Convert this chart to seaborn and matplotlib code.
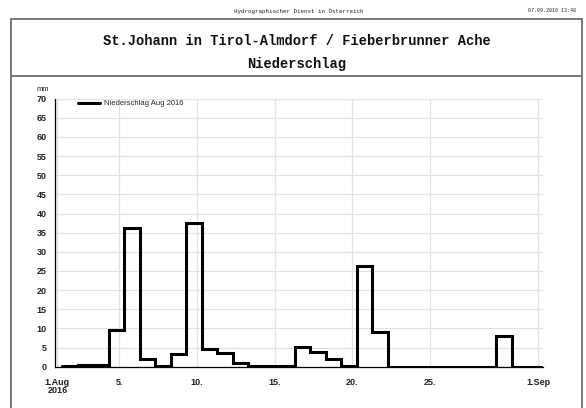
import pandas as pd
import matplotlib
matplotlib.use("Agg")
import matplotlib.pyplot as plt
import seaborn as sns
from matplotlib.lines import Line2D
from matplotlib.ticker import MultipleLocator, FixedLocator

# Daily precipitation totals, August 2016 (each total runs 07:00 -> 07:00 next day)
days = list(range(1, 32))
precip_mm = [0.2, 0.5, 0.5, 9.6, 36.1, 2.0, 0.1, 3.2, 37.6, 4.7,
             3.7, 0.9, 0.2, 0.1, 0.1, 5.2, 3.9, 2.0, 0.2, 26.2,
             9.0, 0.0, 0.0, 0.0, 0.0, 0.0, 0.0, 0.0, 8.0, 0.0, 0.0]
tick_days = [1, 5, 10, 15, 20, 25, 32]
tick_labels = ["1.Aug\n2016", "5.", "10.", "15.", "20.", "25.", "1.Sep"]
series_label = "Niederschlag Aug 2016"

header = "Hydrographischer Dienst in Österreich"
stamp = "07.09.2016 13:48"
title_1 = "St.Johann in Tirol-Almdorf / Fieberbrunner Ache"
title_2 = "Niederschlag"

W, H = 586, 408
sns.set_style("white")
plt.rcParams["font.family"] = ["Liberation Sans", "DejaVu Sans"]

fig = plt.figure(figsize=(W / 100, H / 100), dpi=100)

def px(x, y):
    return x / W, 1 - y / H

# axes placement (pixel box)
x0, x1, ytop, ybot = 55, 543, 98.6, 366.7
ax = fig.add_axes([x0 / W, 1 - ybot / H, (x1 - x0) / W, (ybot - ytop) / H])

offset = 7 / 24
df = pd.DataFrame({
    "t": [d + offset for d in days] + [days[-1] + 1 + offset],
    "mm": precip_mm + [precip_mm[-1]],
})
sns.lineplot(data=df, x="t", y="mm", drawstyle="steps-post", color="black",
             lw=2.2, label=series_label, ax=ax, solid_joinstyle="miter")

ax.set_xlim(0.84, 32.32)
ax.set_ylim(0, 70)
ax.set_xlabel("")
ax.set_ylabel("")

ax.xaxis.set_major_locator(FixedLocator(tick_days))
ax.set_xticklabels(tick_labels)
ax.xaxis.set_minor_locator(MultipleLocator(1))
ax.yaxis.set_major_locator(MultipleLocator(5))
ax.yaxis.set_minor_locator(MultipleLocator(1))

ax.tick_params(axis="both", which="major", direction="out", length=4.5,
               width=0.8, color="black", labelsize=6.5)
ax.tick_params(axis="x", which="major", pad=3.5)
ax.tick_params(axis="y", which="major", pad=1.5)
ax.tick_params(axis="both", which="minor", direction="out", length=2.5,
               width=0.6, color="black")
for lab in ax.get_xticklabels() + ax.get_yticklabels():
    lab.set_fontweight("bold")
    lab.set_color("#222222")
for lab in ax.get_xticklabels():
    lab.set_linespacing(0.9)

ax.grid(True, which="major", color="#e2e2e2", lw=0.9)
ax.set_axisbelow(True)
for s in ("top", "right"):
    ax.spines[s].set_visible(False)
for s in ("left", "bottom"):
    ax.spines[s].set_color("black")
    ax.spines[s].set_linewidth(0.9)

ax.text(-0.025, 1.02, "mm", transform=ax.transAxes, fontsize=5.5,
        ha="center", va="bottom", color="#222222")

leg = ax.legend(loc="upper left", bbox_to_anchor=(0.043, 1.0), frameon=False,
                fontsize=5.5, handlelength=3.0, handletextpad=0.5,
                borderaxespad=0, borderpad=0.2)
for h in leg.legend_handles:
    h.set_linewidth(2.2)

# page frame
fc = "#707070"
lw_frame = 1.3
fig.add_artist(Line2D([px(11, 0)[0], px(582, 0)[0]], [px(0, 19)[1]] * 2,
                      color=fc, lw=lw_frame, transform=fig.transFigure))
fig.add_artist(Line2D([px(11, 0)[0], px(582, 0)[0]], [px(0, 75.7)[1]] * 2,
                      color=fc, lw=lw_frame, transform=fig.transFigure))
fig.add_artist(Line2D([px(11, 0)[0]] * 2, [px(0, 19)[1], 0],
                      color=fc, lw=lw_frame, transform=fig.transFigure))
fig.add_artist(Line2D([px(582, 0)[0]] * 2, [px(0, 19)[1], 0],
                      color=fc, lw=lw_frame, transform=fig.transFigure))

mono = ["Liberation Mono", "DejaVu Sans Mono"]
fig.text(*px(299, 11), header, ha="center", va="center", fontsize=4.2,
         family=mono, color="#222222")
fig.text(*px(576, 11), stamp, ha="right", va="center", fontsize=3.6,
         family=mono, color="#222222")
fig.text(*px(296.5, 41), title_1, ha="center", va="center", fontsize=9.9,
         family=mono, fontweight="bold", color="#111111")
fig.text(*px(296.5, 64), title_2, ha="center", va="center", fontsize=9.9,
         family=mono, fontweight="bold", color="#111111")

fig.savefig("out.png", dpi=100)
